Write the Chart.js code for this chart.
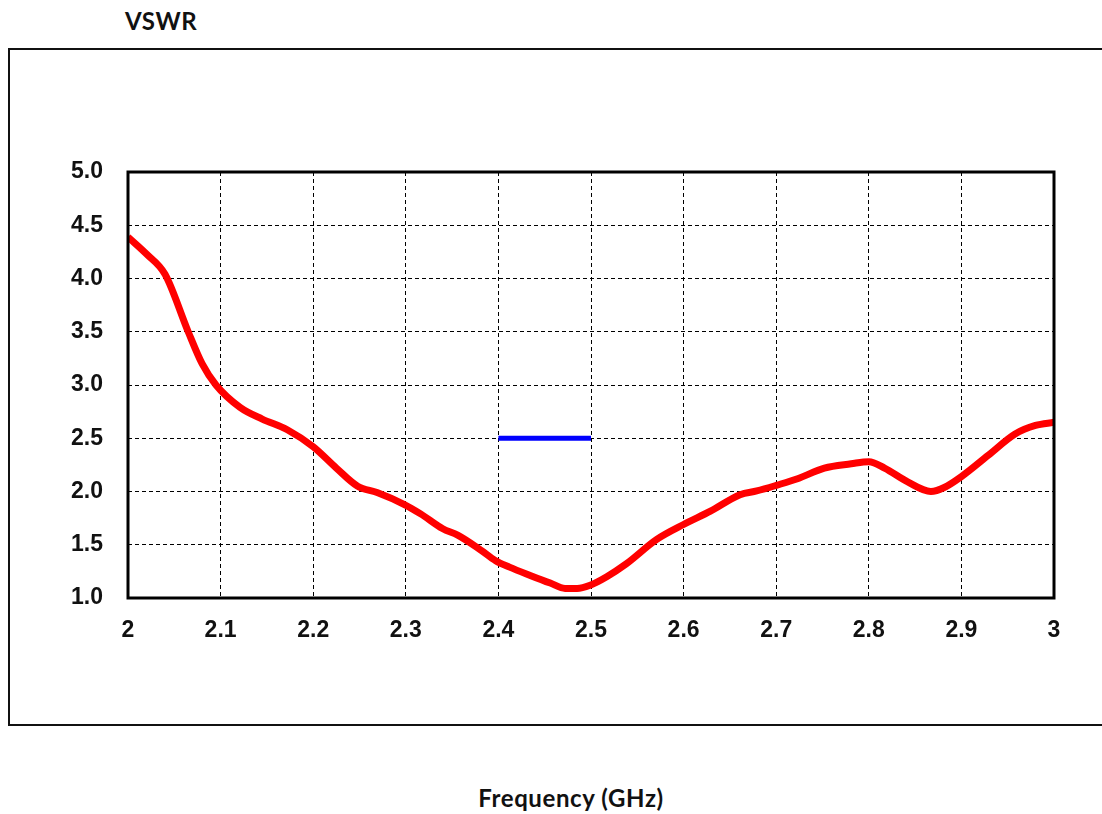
<!DOCTYPE html>
<html>
<head>
<meta charset="utf-8">
<script src="https://cdn.jsdelivr.net/npm/chart.js@4/dist/chart.umd.min.js"></script>
<style>
    html, body { margin: 0; padding: 0; background: #fff; }
    body { width: 1102px; height: 814px; position: relative; overflow: hidden; }
    #frame {
        position: absolute; left: 8px; top: 48px; width: 1110px; height: 674px;
        border: 2px solid #111; box-sizing: content-box;
    }
    .label { position: absolute; font-family: Lato, "Open Sans", sans-serif; font-weight: 700; font-size: 24px; letter-spacing: 0.6px; color: #111; }
    #ylabel { left: 125px; top: 6px; }
    #xlabel { left: 0; width: 1142px; top: 783px; text-align: center; }
    #chart { position: absolute; left: 0; top: 0; }
</style>
</head>
<body>
<div id="frame"></div>
<div class="label" id="ylabel">VSWR</div>
<div class="label" id="xlabel">Frequency (GHz)</div>
<canvas id="chart" width="1102" height="814"></canvas>
<script>
const xTicks = [2, 2.1, 2.2, 2.3, 2.4, 2.5, 2.6, 2.7, 2.8, 2.9, 3];
const yTicks = [1.0, 1.5, 2.0, 2.5, 3.0, 3.5, 4.0, 4.5, 5.0];

const freq = [2.0, 2.02, 2.04, 2.065, 2.08, 2.095, 2.121, 2.145, 2.172, 2.2, 2.225, 2.248, 2.269, 2.298,
    2.316, 2.34, 2.356, 2.381, 2.397, 2.412, 2.435, 2.456, 2.472, 2.485, 2.499, 2.517, 2.538,
    2.571, 2.6, 2.629, 2.661, 2.679, 2.701, 2.723, 2.752, 2.781, 2.8, 2.817, 2.842, 2.867,
    2.882, 2.9, 2.929, 2.958, 2.98, 3.0];
const vswr = [4.39, 4.23, 4.04, 3.5, 3.2, 3.0, 2.79, 2.68, 2.58, 2.42, 2.22, 2.05, 1.99, 1.88,
    1.79, 1.65, 1.59, 1.45, 1.35, 1.29, 1.21, 1.14, 1.09, 1.09, 1.12, 1.20, 1.32,
    1.55, 1.69, 1.815, 1.97, 2.005, 2.06, 2.12, 2.22, 2.26, 2.28, 2.22, 2.09, 2.0,
    2.04, 2.14, 2.34, 2.54, 2.62, 2.65];

const bandFreq = [2.4, 2.5];
const bandVswr = [2.5, 2.5];

const tickFont = { family: '"Liberation Sans", Arial, sans-serif', size: 23, weight: 'bold' };

const plotFrame = {
    id: 'plotFrame',
    afterDraw(chart) {
        const { ctx, chartArea: a } = chart;
        ctx.save();
        ctx.setLineDash([]);
        ctx.lineWidth = 3;
        ctx.strokeStyle = '#000';
        ctx.strokeRect(a.left, a.top, a.right - a.left, a.bottom - a.top);
        ctx.restore();
    },
};

new Chart(document.getElementById('chart'), {
    type: 'line',
    data: {
        datasets: [
            {
                data: freq.map((f, i) => ({ x: f, y: vswr[i] })),
                borderColor: '#ff0000',
                borderWidth: 7,
                pointRadius: 0,
                tension: 0.4,
                cubicInterpolationMode: 'monotone',
            },
            {
                data: bandFreq.map((f, i) => ({ x: f, y: bandVswr[i] })),
                borderColor: '#0000ff',
                borderWidth: 5,
                pointRadius: 0,
            },
        ],
    },
    options: {
        responsive: false,
        animation: false,
        layout: { padding: { top: 172, right: 48, left: 0, bottom: 0 } },
        plugins: { legend: { display: false }, tooltip: { enabled: false } },
        scales: {
            x: {
                type: 'linear',
                min: 2,
                max: 3,
                afterBuildTicks: (scale) => { scale.ticks = xTicks.map((v) => ({ value: v })); },
                afterFit: (scale) => { scale.height = 216; },
                grid: { color: '#000', lineWidth: 1, drawTicks: false },
                border: { display: false, dash: [4, 3] },
                ticks: {
                    color: '#111',
                    font: tickFont,
                    padding: 19,
                    maxRotation: 0,
                    callback: (v) => String(v),
                },
            },
            y: {
                min: 1,
                max: 5,
                afterBuildTicks: (scale) => { scale.ticks = yTicks.map((v) => ({ value: v })); },
                afterFit: (scale) => { scale.width = 128; },
                grid: { color: '#000', lineWidth: 1, drawTicks: false },
                border: { display: false, dash: [4, 3] },
                ticks: {
                    color: '#111',
                    font: tickFont,
                    padding: 25,
                    callback: (v) => v.toFixed(1),
                },
            },
        },
    },
    plugins: [plotFrame],
});
</script>
</body>
</html>
